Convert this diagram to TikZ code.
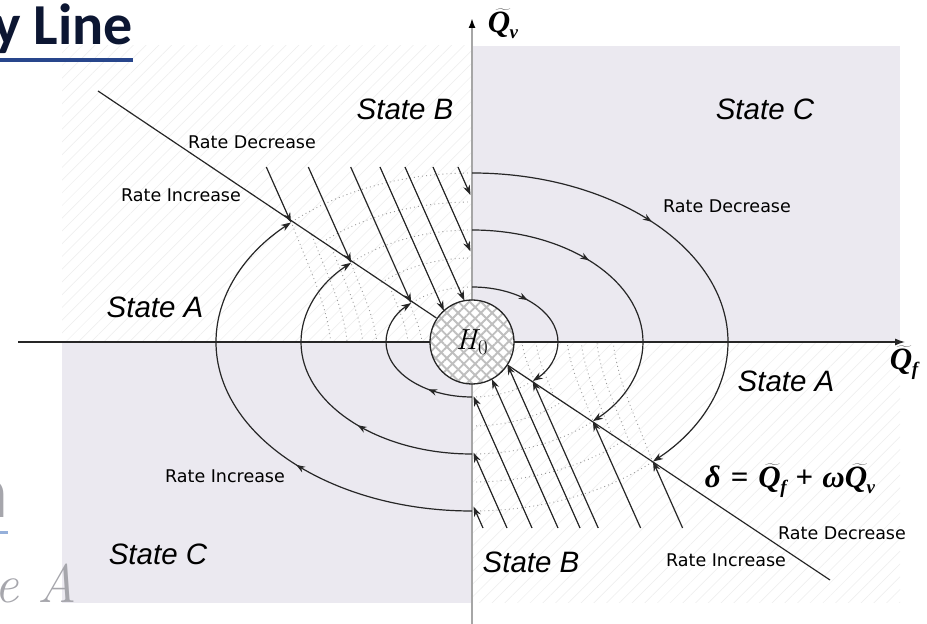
\documentclass[tikz,border=0pt]{standalone}
\usepackage{fontspec}
\usetikzlibrary{arrows.meta,patterns.meta,decorations.markings}
\newfontfamily\ratefont{DejaVu Sans}
\newfontfamily\statefont{Liberation Sans}
\newfontfamily\slidefont{Carlito}
\newfontfamily\fmfont{Liberation Serif}
\newcommand\qsubbox[1]{\hbox{Q\kern-0.5pt\lower6pt\hbox{\fontsize{19}{20}\selectfont #1}}}
\definecolor{quadgray}{RGB}{235,233,240}
\definecolor{navytext}{RGB}{12,22,50}
\definecolor{navyline}{RGB}{40,70,140}
\definecolor{paleblue}{RGB}{150,176,218}
\definecolor{palegray}{RGB}{166,166,172}
\begin{document}
\begin{tikzpicture}[x=1pt,y=1pt,
  curve/.style={line width=1.2pt, draw=black!85},
  endtip/.style={-{Stealth[length=10pt,width=7pt]}},
  midarrow/.style={postaction={decorate,decoration={markings,
     mark=at position #1 with {\arrow{Stealth[length=9pt,width=6.5pt]}}}}},
  dotgrid/.style={draw=gray!80, line width=0.9pt, dash pattern=on 0.9pt off 3.2pt},
  ratetext/.style={font=\ratefont\fontsize{17.5}{20}\selectfont, inner sep=0pt, anchor=base},
  statetext/.style={font=\statefont\itshape\fontsize{29.5}{32}\selectfont, inner sep=0pt, anchor=base},
  formula/.style={font=\fmfont\bfseries\itshape\fontsize{31}{34}\selectfont, inner sep=0pt},
  hatch/.style={pattern={Lines[angle=45,distance=9pt,line width=0.5pt]}, pattern color=gray!14}
]
\useasboundingbox (0,0) rectangle (927,624);
\fill[white] (0,0) rectangle (927,624);
\begin{scope}[shift={(472,282)}]
  % quadrant backgrounds
  \fill[quadgray] (1,0) rectangle (428,296);
  \fill[quadgray] (-410,0) rectangle (1,-261);
  \fill[hatch] (-410,0) rectangle (0,296);
  \fill[hatch] (0,0) rectangle (428,-261);
  % dotted level curves
  \foreach \b/\a in {55/86,84/128,112/171,140/213,169/256}{
    \draw[dotgrid] (0,\b) arc[start angle=90,end angle=135,x radius=\a pt,y radius=\b pt];
    \draw[dotgrid] (0,-\b) arc[start angle=270,end angle=315,x radius=\a pt,y radius=\b pt];
  }
  \foreach \px in {-181,-160,-140,-122,-82,-64,181,160,140,122,82,64}{
    \pgfmathsetmacro\py{-0.668*\px}
    \pgfmathsetmacro\ex{0.78*\px}
    \pgfmathsetmacro\cxa{\px+0.13*\py}
    \pgfmathsetmacro\cya{0.65*\py}
    \pgfmathsetmacro\cxb{\ex-0.04*\py}
    \pgfmathsetmacro\cyb{0.35*\py}
    \draw[dotgrid] (\px,\py) .. controls (\cxa,\cya) and (\cxb,\cyb) .. (\ex,0);
  }
  % axes
  \draw[line width=1.2pt, black!85, -{Latex[length=10pt,width=7pt]}] (-454,0) -- (433,0);
  \draw[line width=2.4pt, gray!70, -{Latex[length=10pt,width=7pt,color=black]}] (0,-290) -- (0,324);
  % H0 circle
  \node[circle, minimum size=84pt, inner sep=0pt, draw=black!85, line width=1.3pt,
        preaction={fill=white},
        preaction={pattern={Lines[angle=45,distance=8pt,line width=1.9pt]}, pattern color=gray!50},
        pattern={Lines[angle=-45,distance=8pt,line width=1.9pt]}, pattern color=gray!50]
        (H) at (0,0) {\fontsize{29}{31}\selectfont\itshape H\kern1pt\upshape\lower5pt\hbox{\fontsize{21}{22}\selectfont 0}};
  % points on the switching line
  \coordinate (D1) at (-181,119.5);
  \coordinate (D2) at (-120.9,79.2);
  \coordinate (D3) at (-60.8,38.9);
  \coordinate (E1) at (181,-119.5);
  \coordinate (E2) at (120.9,-79.2);
  \coordinate (E3) at (60.8,-38.9);
  \coordinate (sTL) at (-374,251);
  \coordinate (sBR) at (358,-238);
  \draw[curve] (sTL) -- (H.146.3);
  \draw[curve] (H.-33.7) -- (sBR);
  % top-left straight trajectories
  \coordinate (t1) at (-205.7,175);
  \coordinate (t2) at (-163.7,175);
  \coordinate (t3) at (-121.3,175);
  \coordinate (t4) at (-92,175);
  \coordinate (t5) at (-67,175);
  \coordinate (t6) at (-39,175);
  \coordinate (t7) at (-14,175);
  \coordinate (u4) at (-28.1,31.2);
  \coordinate (u5) at (-7.6,41.3);
  \coordinate (u6) at (-1.5,90.6);
  \coordinate (u7) at (-1.5,146.9);
  \draw[curve,endtip] (t1) -- (D1);
  \draw[curve,endtip] (t2) -- (D2);
  \draw[curve,endtip] (t3) -- (D3);
  \draw[curve,endtip] (t4) -- (u4);
  \draw[curve,endtip] (t5) -- (u5);
  \draw[curve,endtip] (t6) -- (u6);
  \draw[curve,endtip] (t7) -- (u7);
  % bottom-right straight trajectories
  \coordinate (b1) at (11,-186);
  \coordinate (b2) at (35,-186);
  \coordinate (b3) at (60,-186);
  \coordinate (b4) at (86,-186);
  \coordinate (b5) at (108,-186);
  \coordinate (b6) at (126.2,-186);
  \coordinate (b7) at (168.6,-186);
  \coordinate (b8) at (210.6,-186);
  \coordinate (v1) at (1.5,-164.6);
  \coordinate (v2) at (1.5,-110.6);
  \coordinate (v3) at (1.5,-54.4);
  \coordinate (v4) at (19.8,-37);
  \coordinate (v5) at (35.4,-22.7);
  \draw[curve,endtip] (b1) -- (v1);
  \draw[curve,endtip] (b2) -- (v2);
  \draw[curve,endtip] (b3) -- (v3);
  \draw[curve,endtip] (b4) -- (v4);
  \draw[curve,endtip] (b5) -- (v5);
  \draw[curve,endtip] (b6) -- (E3);
  \draw[curve,endtip] (b7) -- (E2);
  \draw[curve,endtip] (b8) -- (E1);
  % elliptic trajectories
  \coordinate (p1) at (0,169);
  \coordinate (p2) at (0,112);
  \coordinate (p3) at (0,55);
  \coordinate (q1) at (0,-169);
  \coordinate (q2) at (0,-112);
  \coordinate (q3) at (0,-55);
  \draw[curve,endtip,midarrow=0.39] (p1) arc[start angle=90,end angle=-45,x radius=256pt,y radius=169pt];
  \draw[curve,endtip,midarrow=0.38] (p2) arc[start angle=90,end angle=-45,x radius=171pt,y radius=112pt];
  \draw[curve,endtip,midarrow=0.36] (p3) arc[start angle=90,end angle=-45,x radius=86pt,y radius=55pt];
  \draw[curve,endtip,midarrow=0.38] (q1) arc[start angle=270,end angle=135,x radius=256pt,y radius=169pt];
  \draw[curve,endtip,midarrow=0.37] (q2) arc[start angle=270,end angle=135,x radius=171pt,y radius=112pt];
  \draw[curve,endtip,midarrow=0.28] (q3) arc[start angle=270,end angle=135,x radius=86pt,y radius=55pt];
  % labels
  \node[statetext] (sB1) at (-67,222) {State B};
  \node[statetext] (sC1) at (293,222) {State C};
  \node[statetext] (sA1) at (-317,24) {State A};
  \node[statetext] (sA2) at (314,-50) {State A};
  \node[statetext] (sC2) at (-314,-223) {State C};
  \node[statetext] (sB2) at (59,-231) {State B};
  \node[ratetext] (rd1) at (-220,193) {Rate Decrease};
  \node[ratetext] (ri1) at (-291,140) {Rate Increase};
  \node[ratetext] (rd2) at (255,129) {Rate Decrease};
  \node[ratetext] (ri2) at (-247,-141) {Rate Increase};
  \node[ratetext] (rd3) at (370,-198) {Rate Decrease};
  \node[ratetext] (ri3) at (254,-225) {Rate Increase};
  \node[formula] (delta) at (318,-139) {δ\hspace{10pt}{\upshape =}\hspace{10pt}$\widetilde{\qsubbox{f}}$\hspace{9pt}{\upshape +}\hspace{9pt}ω$\widetilde{\qsubbox{v}}$};
  \node[formula] (qf) at (432,-21) {$\widetilde{\qsubbox{f}}$};
  \node[formula] (qv) at (31,318) {$\widetilde{\qsubbox{v}}$};
\end{scope}
% slide remnants
\node[anchor=base east, inner sep=0pt, text=navytext, font=\slidefont\bfseries\fontsize{58}{60}\selectfont] (title) at (133,579) {y Line};
\coordinate (ul1) at (0,564);
\coordinate (ul2) at (133,564);
\draw[navyline, line width=4pt] (ul1) -- (ul2);
\node[anchor=base east, inner sep=0pt, text=palegray, font=\slidefont\bfseries\fontsize{75}{78}\selectfont] (nfrag) at (8,106) {n};
\coordinate (ul3) at (0,91);
\coordinate (ul4) at (8,91);
\draw[paleblue, line width=3pt] (ul3) -- (ul4);
\node[anchor=base east, inner sep=0pt, text=palegray, font=\itshape\fontsize{54}{56}\selectfont] (eA) at (77,21) {e A};
\end{tikzpicture}
\end{document}
